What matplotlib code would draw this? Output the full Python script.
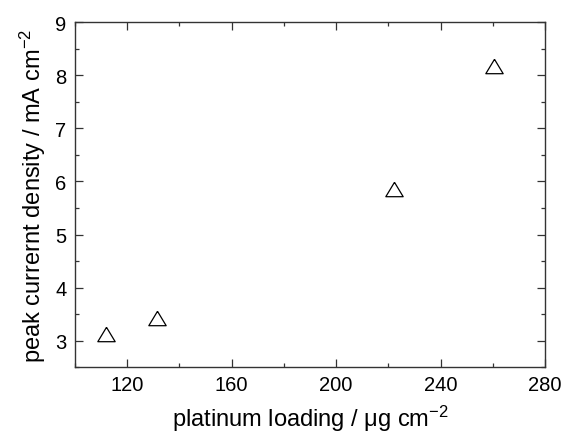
import matplotlib
matplotlib.use('Agg')
import matplotlib.pyplot as plt
from matplotlib.ticker import MultipleLocator

# platinum loading (ug cm-2) vs peak current density (mA cm-2)
pt_loading = [112, 131.5, 222, 260.5]
peak_current = [3.13, 3.43, 5.86, 8.17]

plt.rcParams['font.family'] = ['Liberation Sans', 'DejaVu Sans']
plt.rcParams['mathtext.fontset'] = 'custom'
plt.rcParams['mathtext.rm'] = 'Liberation Sans'
plt.rcParams['mathtext.it'] = 'Liberation Sans'

fig = plt.figure(figsize=(5.62, 4.35), dpi=100)
ax = fig.add_axes([0.133, 0.154, 0.837, 0.792])

# slightly flattened open triangle
tri = [(0, 0.83), (-1, -0.83), (1, -0.83), (0, 0.83)]
ax.plot(pt_loading, peak_current, linestyle='none', marker=tri, ms=12.5,
        mfc='none', mec='black', mew=0.9)

ax.set_xlim(100, 280)
ax.set_ylim(2.5, 9)
ax.xaxis.set_major_locator(MultipleLocator(40))
ax.xaxis.set_minor_locator(MultipleLocator(20))
ax.yaxis.set_major_locator(MultipleLocator(1))
ax.yaxis.set_minor_locator(MultipleLocator(0.5))
ax.set_xticks([120, 160, 200, 240, 280])

ax.tick_params(which='both', direction='in', top=True, right=True,
               labelsize=14.5, width=0.9, color='#333333')
ax.tick_params(which='major', length=5.5, pad=6)
ax.tick_params(which='minor', length=3)
for s in ax.spines.values():
    s.set_linewidth(1.0)
    s.set_color('#333333')

ax.set_xlabel('platinum loading / $\\mu$g cm$^{-2}$', fontsize=17, labelpad=6)
ax.set_ylabel('peak currernt density / mA cm$^{-2}$', fontsize=17, labelpad=5)

plt.savefig('out.png', dpi=100)
plt.close('all')
